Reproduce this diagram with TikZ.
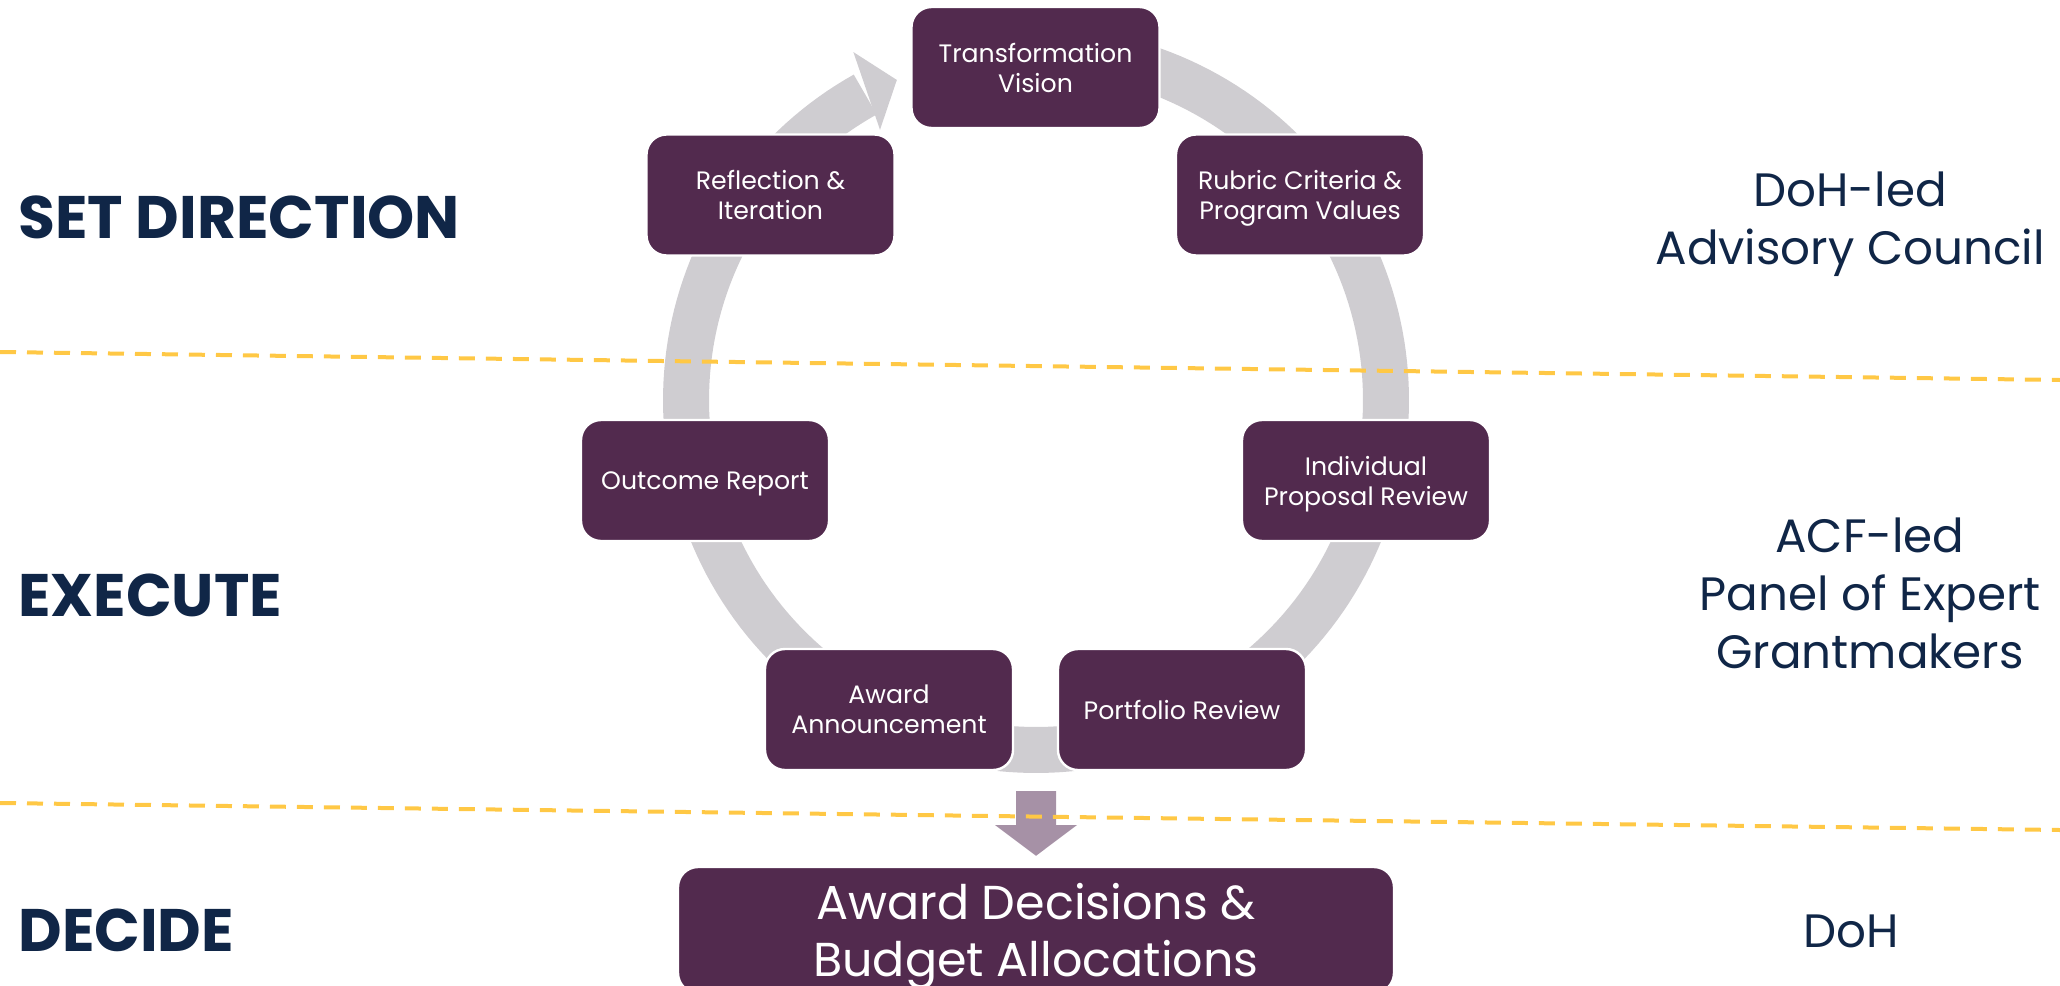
\documentclass[tikz,border=0pt]{standalone}
\usepackage{fontspec}
\setmainfont{Poppins}
\usetikzlibrary{calc}
\definecolor{boxpurple}{RGB}{82,42,78}
\definecolor{ringgray}{RGB}{207,205,209}
\definecolor{arrowpurple}{RGB}{166,145,166}
\definecolor{navy}{RGB}{16,38,71}
\definecolor{dashyellow}{RGB}{255,200,69}
\begin{document}
\begin{tikzpicture}[x=0.5pt,y=-0.5pt,
  stepbox/.style={draw=white, line width=1.2pt, fill=boxpurple, rounded corners=10pt,
    minimum width=124pt, minimum height=60.5pt, text=white, align=center,
    font=\fontsize{12.6}{15}\selectfont, inner sep=2pt, text depth=0pt},
  bigbox/.style={stepbox, minimum width=358pt, minimum height=63pt,
    font=\fontsize{23.8}{28.5}\selectfont},
  phase/.style={anchor=west, inner sep=0pt, text=navy,
    font=\fontsize{30}{36}\selectfont\bfseries},
  owner/.style={inner sep=0pt, text=navy, align=center,
    font=\fontsize{23.4}{29}\selectfont},
  ring/.style={draw=ringgray, line width=23pt, line cap=butt},
  sepline/.style={draw=dashyellow, line width=2pt, dash pattern=on 8pt off 5.5pt}
]
\useasboundingbox (0,0) rectangle (2060,985);
\coordinate (C) at (1036,400);
% ring behind the steps
\draw[ring] plot[domain=280:600.8, samples=200] ({1036+350*cos(\x)},{400+350*sin(\x)});
\fill[ringgray] ($(C)+(242.3:393)$) -- ($(C)+(246.5:349)$) -- ($(C)+(240:312)$) -- cycle;
% steps
\node[stepbox] (tv)  at (1035.5,67.5) {Transformation\\Vision};
\node[stepbox] (rc)  at (1300,195)    {Rubric Criteria \&\\Program Values};
\node[stepbox] (ipr) at (1366,480.5)  {Individual\\Proposal Review};
\node[stepbox] (pr)  at (1182,709.5)  {Portfolio Review};
\node[stepbox] (aa)  at (889,709.5)   {Award\\Announcement};
\node[stepbox] (orp) at (705,480.5)   {Outcome Report};
\node[stepbox] (ri)  at (770.5,195)   {Reflection \&\\Iteration};
\node[bigbox]  (ad)  at (1036,930)    {Award Decisions \&\\Budget Allocations};
% down arrow into the decision box
\fill[arrowpurple] (1016,791) -- (1056,791) -- (1056,825) -- (1077,825)
  -- ($(ad.north)+(0,-10)$) -- (995,825) -- (1016,825) -- cycle;
% phase labels
\node[phase] (sd) at (18,217.5) {SET DIRECTION};
\node[phase] (ex) at (18,595)   {EXECUTE};
\node[phase] (de) at (18,930)   {DECIDE};
% owner labels
\node[owner] (o1) at (1850,224) {DoH-led\\Advisory Council};
\node[owner] (o2) at (1870,593) {ACF-led\\Panel of Expert\\Grantmakers};
\node[owner] (o3) at (1851,931) {DoH};
% separators
\draw[sepline] (0,352) -- (2060,380);
\draw[sepline] (0,803) -- (2060,830);
\end{tikzpicture}
\end{document}
